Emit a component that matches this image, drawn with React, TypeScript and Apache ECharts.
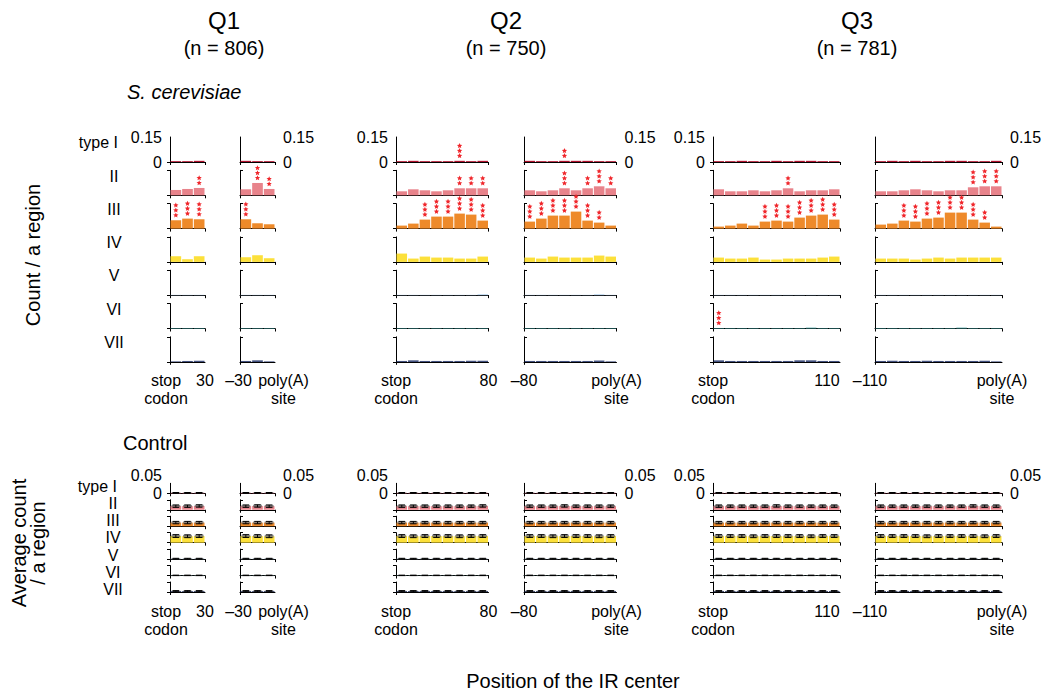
import React, { useEffect, useRef } from 'react';
import * as echarts from 'echarts';

const FONT = '"Liberation Sans", Arial, Helvetica, sans-serif';

// ---------- labels ----------
const rowNames = ['type I', 'II', 'III', 'IV', 'V', 'VI', 'VII'];
const rowColors = ['#B0102C', '#E8838B', '#EE8A2A', '#FCE03A', '#A9CBEA', '#3A9A9A', '#12245E'];
const quarterTitles = ['Q1', 'Q2', 'Q3'];
const quarterCounts = ['(n = 806)', '(n = 750)', '(n = 781)'];
const xTickLabels = [
  ['stop\ncodon', '30'],
  ['\u201330', 'poly(A)\nsite'],
  ['stop\ncodon', '80'],
  ['\u201380', 'poly(A)\nsite'],
  ['stop\ncodon', '110'],
  ['\u2013110', 'poly(A)\nsite'],
];
const yMaxCer = 0.15;
const yMaxCtrl = 0.05;

// ---------- S. cerevisiae: rows = type I..VII, values per 10-nt bin ----------
const cerQ1Stop = [
  [0.005, 0.005, 0.007],
  [0.032, 0.038, 0.044],
  [0.05, 0.06, 0.056],
  [0.034, 0.016, 0.034],
  [0.002, 0.002, 0.002],
  [0.003, 0.003, 0.003],
  [0.003, 0.005, 0.006],
];
const cerQ1PolyA = [
  [0.007, 0.005, 0.005],
  [0.036, 0.074, 0.038],
  [0.056, 0.032, 0.026],
  [0.028, 0.04, 0.022],
  [0.002, 0.002, 0.002],
  [0.003, 0.003, 0.003],
  [0.005, 0.008, 0.003],
];
const cerQ2Stop = [
  [0.005, 0.007, 0.005, 0.005, 0.005, 0.007, 0.005, 0.007],
  [0.024, 0.036, 0.03, 0.024, 0.03, 0.042, 0.042, 0.042],
  [0.018, 0.03, 0.054, 0.072, 0.072, 0.09, 0.084, 0.048],
  [0.05, 0.02, 0.032, 0.026, 0.026, 0.02, 0.02, 0.032],
  [0.002, 0.002, 0.002, 0.002, 0.002, 0.002, 0.002, 0.005],
  [0.003, 0.003, 0.003, 0.003, 0.003, 0.003, 0.003, 0.003],
  [0.005, 0.008, 0.005, 0.005, 0.005, 0.005, 0.006, 0.006],
];
const cerQ2PolyA = [
  [0.007, 0.005, 0.005, 0.007, 0.007, 0.007, 0.005, 0.005],
  [0.03, 0.024, 0.03, 0.042, 0.03, 0.042, 0.054, 0.042],
  [0.042, 0.06, 0.078, 0.078, 0.102, 0.048, 0.036, 0.018],
  [0.026, 0.02, 0.032, 0.026, 0.026, 0.026, 0.038, 0.032],
  [0.002, 0.002, 0.002, 0.002, 0.002, 0.002, 0.005, 0.002],
  [0.003, 0.003, 0.003, 0.003, 0.003, 0.003, 0.003, 0.003],
  [0.005, 0.005, 0.005, 0.005, 0.005, 0.005, 0.007, 0.003],
];
const cerQ3Stop = [
  [0.005, 0.005, 0.007, 0.005, 0.005, 0.007, 0.005, 0.007, 0.007, 0.005, 0.005],
  [0.036, 0.024, 0.024, 0.03, 0.024, 0.03, 0.042, 0.024, 0.03, 0.03, 0.036],
  [0.012, 0.018, 0.03, 0.018, 0.042, 0.048, 0.042, 0.066, 0.078, 0.084, 0.054],
  [0.026, 0.02, 0.02, 0.026, 0.014, 0.014, 0.02, 0.02, 0.02, 0.026, 0.032],
  [0.002, 0.002, 0.002, 0.002, 0.002, 0.002, 0.002, 0.002, 0.002, 0.002, 0.002],
  [0.003, 0.003, 0.003, 0.003, 0.003, 0.003, 0.003, 0.003, 0.005, 0.003, 0.003],
  [0.008, 0.005, 0.005, 0.005, 0.005, 0.005, 0.005, 0.008, 0.008, 0.005, 0.005],
];
const cerQ3PolyA = [
  [0.005, 0.007, 0.005, 0.007, 0.005, 0.005, 0.007, 0.007, 0.005, 0.005, 0.007],
  [0.024, 0.024, 0.03, 0.036, 0.03, 0.024, 0.03, 0.03, 0.048, 0.054, 0.054],
  [0.024, 0.03, 0.048, 0.042, 0.06, 0.066, 0.096, 0.096, 0.054, 0.036, 0.012],
  [0.02, 0.02, 0.02, 0.014, 0.02, 0.026, 0.02, 0.026, 0.026, 0.026, 0.026],
  [0.002, 0.002, 0.002, 0.002, 0.002, 0.002, 0.002, 0.002, 0.002, 0.002, 0.002],
  [0.003, 0.003, 0.003, 0.003, 0.003, 0.003, 0.003, 0.005, 0.003, 0.003, 0.003],
  [0.005, 0.006, 0.005, 0.005, 0.006, 0.005, 0.005, 0.005, 0.005, 0.006, 0.003],
];

// significance marks: [row, bin, number of asterisks]
const starsQ1Stop = [[1, 2, 2], [2, 0, 3], [2, 1, 3], [2, 2, 3]];
const starsQ1PolyA = [[1, 1, 3], [1, 2, 2], [2, 0, 3]];
const starsQ2Stop = [[0, 5, 3], [1, 5, 2], [1, 6, 2], [1, 7, 2], [2, 2, 3], [2, 3, 3], [2, 4, 3], [2, 5, 3], [2, 6, 3], [2, 7, 3]];
const starsQ2PolyA = [[0, 3, 2], [1, 3, 3], [1, 5, 2], [1, 6, 3], [1, 7, 2], [2, 0, 3], [2, 1, 3], [2, 2, 3], [2, 3, 3], [2, 4, 3], [2, 5, 3], [2, 6, 2]];
const starsQ3Stop = [[1, 6, 2], [2, 4, 3], [2, 5, 3], [2, 6, 3], [2, 7, 3], [2, 8, 3], [2, 9, 3], [2, 10, 3], [5, 0, 3]];
const starsQ3PolyA = [[1, 8, 3], [1, 9, 3], [1, 10, 3], [2, 2, 3], [2, 3, 3], [2, 4, 3], [2, 5, 3], [2, 6, 3], [2, 7, 3], [2, 8, 3], [2, 9, 2]];

// ---------- Control (average over shuffled sequences) ----------
const ctrlQ1Stop = [
  [0.002, 0.002, 0.002],
  [0.018, 0.018, 0.019],
  [0.018, 0.018, 0.018],
  [0.033, 0.032, 0.033],
  [0.002, 0.002, 0.002],
  [0.001, 0.001, 0.001],
  [0.004, 0.004, 0.004],
];
const ctrlQ1PolyA = [
  [0.002, 0.002, 0.002],
  [0.018, 0.019, 0.018],
  [0.018, 0.018, 0.018],
  [0.033, 0.033, 0.032],
  [0.002, 0.002, 0.002],
  [0.001, 0.001, 0.001],
  [0.004, 0.004, 0.004],
];
const ctrlQ2Stop = [
  [0.002, 0.002, 0.002, 0.002, 0.002, 0.002, 0.002, 0.002],
  [0.018, 0.018, 0.018, 0.018, 0.018, 0.018, 0.018, 0.019],
  [0.018, 0.018, 0.018, 0.018, 0.018, 0.018, 0.018, 0.018],
  [0.033, 0.032, 0.033, 0.033, 0.033, 0.032, 0.033, 0.033],
  [0.002, 0.002, 0.002, 0.002, 0.002, 0.002, 0.002, 0.002],
  [0.001, 0.001, 0.001, 0.001, 0.001, 0.001, 0.001, 0.001],
  [0.004, 0.004, 0.004, 0.004, 0.004, 0.004, 0.004, 0.004],
];
const ctrlQ2PolyA = [
  [0.002, 0.002, 0.002, 0.002, 0.002, 0.002, 0.002, 0.002],
  [0.018, 0.018, 0.018, 0.019, 0.018, 0.018, 0.018, 0.018],
  [0.018, 0.018, 0.018, 0.018, 0.018, 0.018, 0.018, 0.018],
  [0.033, 0.033, 0.032, 0.033, 0.033, 0.033, 0.032, 0.033],
  [0.002, 0.002, 0.002, 0.002, 0.002, 0.002, 0.002, 0.002],
  [0.001, 0.001, 0.001, 0.001, 0.001, 0.001, 0.001, 0.001],
  [0.004, 0.004, 0.004, 0.004, 0.004, 0.004, 0.004, 0.004],
];
const ctrlQ3Stop = [
  [0.002, 0.002, 0.002, 0.002, 0.002, 0.002, 0.002, 0.002, 0.002, 0.002, 0.002],
  [0.018, 0.018, 0.018, 0.018, 0.018, 0.019, 0.018, 0.018, 0.018, 0.018, 0.018],
  [0.018, 0.018, 0.018, 0.018, 0.018, 0.018, 0.018, 0.018, 0.018, 0.018, 0.018],
  [0.033, 0.033, 0.033, 0.032, 0.033, 0.033, 0.033, 0.033, 0.032, 0.033, 0.033],
  [0.002, 0.002, 0.002, 0.002, 0.002, 0.002, 0.002, 0.002, 0.002, 0.002, 0.002],
  [0.001, 0.001, 0.001, 0.001, 0.001, 0.001, 0.001, 0.001, 0.001, 0.001, 0.001],
  [0.004, 0.004, 0.004, 0.004, 0.004, 0.004, 0.004, 0.004, 0.004, 0.004, 0.004],
];
const ctrlQ3PolyA = [
  [0.002, 0.002, 0.002, 0.002, 0.002, 0.002, 0.002, 0.002, 0.002, 0.002, 0.002],
  [0.018, 0.018, 0.018, 0.018, 0.018, 0.018, 0.018, 0.018, 0.019, 0.018, 0.018],
  [0.018, 0.018, 0.018, 0.018, 0.018, 0.018, 0.018, 0.018, 0.018, 0.018, 0.018],
  [0.033, 0.033, 0.033, 0.033, 0.032, 0.033, 0.033, 0.033, 0.033, 0.032, 0.033],
  [0.002, 0.002, 0.002, 0.002, 0.002, 0.002, 0.002, 0.002, 0.002, 0.002, 0.002],
  [0.001, 0.001, 0.001, 0.001, 0.001, 0.001, 0.001, 0.001, 0.001, 0.001, 0.001],
  [0.004, 0.004, 0.004, 0.004, 0.004, 0.004, 0.004, 0.004, 0.004, 0.004, 0.004],
];
const ctrlErr = [0.002, 0.006, 0.006, 0.007, 0.002, 0.001, 0.003];

const cerPanels = [cerQ1Stop, cerQ1PolyA, cerQ2Stop, cerQ2PolyA, cerQ3Stop, cerQ3PolyA];
const cerStars = [starsQ1Stop, starsQ1PolyA, starsQ2Stop, starsQ2PolyA, starsQ3Stop, starsQ3PolyA];
const ctrlPanels = [ctrlQ1Stop, ctrlQ1PolyA, ctrlQ2Stop, ctrlQ2PolyA, ctrlQ3Stop, ctrlQ3PolyA];

// ---------- layout (pixels) ----------
const PANEL_X = [170, 240, 396, 524, 713, 875];
const PANEL_W = [35, 35, 92.5, 92.5, 127, 127];
const LABEL_SHIFT = [[-4, 0], [-1.5, 8.5], [0, 0], [0, 0], [0, -13], [-5, 0]];
const TITLE_X = [224, 506, 857];
const CER_TOP0 = 137, CER_STEP = 33.3, CER_H = 25;
const CTRL_BASE0 = 493.3, CTRL_STEP = 16.45, CTRL_H = 10;

function starPoints(cx: number, cy: number, R: number, r: number) {
  const pts: number[][] = [];
  for (let i = 0; i < 10; i++) {
    const a = -Math.PI / 2 + (i * Math.PI) / 5;
    const rad = i % 2 ? r : R;
    pts.push([cx + rad * Math.cos(a), cy + rad * Math.sin(a)]);
  }
  return pts;
}

function renderStars(_params: any, api: any) {
  const p = api.coord([api.value(0), api.value(1)]);
  const k = api.value(2);
  const children: any[] = [];
  for (let j = 0; j < k; j++) {
    children.push({
      type: 'polygon',
      shape: { points: starPoints(p[0], p[1] - 5 - 5 * j, 2.8, 1.3) },
      style: { fill: '#F0262B' },
    });
  }
  return { type: 'group', children };
}

function renderErr(_params: any, api: any) {
  const x = api.value(0), v = api.value(1), e = api.value(2);
  const c = api.coord([x, v]);
  const hi = api.coord([x, v + e]);
  const lo = api.coord([x, Math.max(0, v - e)]);
  const bw = api.size([1, 0])[0];
  return {
    type: 'group',
    children: [
      { type: 'rect', shape: { x: c[0] - bw * 0.38, y: hi[1], width: bw * 0.76, height: Math.max(1, lo[1] - hi[1]) }, style: { fill: 'rgba(95,95,95,0.7)' } },
      { type: 'line', shape: { x1: c[0], y1: hi[1], x2: c[0], y2: lo[1] }, style: { stroke: '#000', lineWidth: 1 } },
      { type: 'line', shape: { x1: c[0] - bw * 0.28, y1: hi[1], x2: c[0] + bw * 0.28, y2: hi[1] }, style: { stroke: '#000', lineWidth: 1 } },
      { type: 'line', shape: { x1: c[0] - bw * 0.28, y1: lo[1], x2: c[0] + bw * 0.28, y2: lo[1] }, style: { stroke: '#000', lineWidth: 1 } },
    ],
  };
}

function buildOption() {
  const grid: any[] = [];
  const xAxis: any[] = [];
  const yAxis: any[] = [];
  const series: any[] = [];
  const rich: any = {
    up: { fontSize: 16, lineHeight: 16, fontFamily: FONT, color: '#000', padding: [0, 0, 16, 0] },
  };
  for (let p = 0; p < 6; p++) {
    for (let k = 0; k < 2; k++) {
      const s = LABEL_SHIFT[p][k];
      rich[`s${p}_${k}`] = {
        fontSize: 16, lineHeight: 18, fontFamily: FONT, color: '#000',
        padding: s < 0 ? [0, -2 * s, 0, 0] : [0, 0, 0, 2 * s],
      };
    }
  }
  const axisLineStyle = { show: true, onZero: true, lineStyle: { color: '#000', width: 1 } };
  const tickStyle = { show: true, length: 3, lineStyle: { color: '#000', width: 1 } };
  for (let sec = 0; sec < 2; sec++) {
    const panels = sec === 0 ? cerPanels : ctrlPanels;
    const ymax = sec === 0 ? yMaxCer : yMaxCtrl;
    for (let p = 0; p < 6; p++) {
      for (let r = 0; r < 7; r++) {
        const gi = grid.length;
        const vals = panels[p][r];
        const n = vals.length;
        const h = sec === 0 ? CER_H : CTRL_H;
        const top = sec === 0 ? CER_TOP0 + r * CER_STEP : CTRL_BASE0 + r * CTRL_STEP - CTRL_H;
        grid.push({ left: PANEL_X[p], top, width: PANEL_W[p], height: h, containLabel: false });
        const pp = p;
        const xfmt = (v: number) => {
          const k = v === 0 ? 0 : 1;
          const key = `s${pp}_${k}`;
          return xTickLabels[pp][k].split('\n').map((l) => `{${key}|${l}}`).join('\n');
        };
        const xLab = { margin: 10, fontSize: 16, lineHeight: 18, fontFamily: FONT, color: '#000', rich, formatter: xfmt };
        const xi = xAxis.length;
        xAxis.push({
          type: 'value', gridIndex: gi, position: 'bottom', min: 0, max: n, interval: n,
          axisLine: axisLineStyle, axisTick: tickStyle, splitLine: { show: false },
          axisLabel: r === 6 ? { show: true, showMinLabel: true, showMaxLabel: false, ...xLab } : { show: false },
        });
        if (r === 6) {
          // second bottom axis on the same grid carries the right-end label
          xAxis.push({
            type: 'value', gridIndex: gi, position: 'bottom', min: 0, max: n, interval: n,
            axisLine: { show: false }, axisTick: { show: false }, splitLine: { show: false },
            axisLabel: { show: true, showMinLabel: false, showMaxLabel: true, ...xLab },
          });
        }
        const yPos = p % 2 === 0 ? 'left' : 'right';
        const yLab = { margin: 8, fontSize: 16, fontFamily: FONT, color: '#000' };
        const yi = yAxis.length;
        yAxis.push({
          type: 'value', gridIndex: gi, position: yPos, min: 0, max: ymax, interval: ymax,
          axisLine: { show: true, lineStyle: { color: '#000', width: 1 } }, axisTick: tickStyle, splitLine: { show: false },
          axisLabel: r === 0 ? { show: true, showMinLabel: true, showMaxLabel: false, ...yLab } : { show: false },
        });
        if (r === 0) {
          yAxis.push({
            type: 'value', gridIndex: gi, position: yPos, min: 0, max: ymax, interval: ymax,
            axisLine: { show: false }, axisTick: { show: false }, splitLine: { show: false },
            axisLabel: {
              show: true, showMinLabel: false, showMaxLabel: true, ...yLab,
              formatter: sec === 0 ? undefined : (v: number) => `{up|${v}}`,
              rich,
            },
          });
        }
        series.push({
          type: 'bar', xAxisIndex: xi, yAxisIndex: yi, silent: true,
          data: vals.map((v, i) => [i + 0.5, v]),
          barWidth: PANEL_W[p] / n - 1,
          itemStyle: { color: rowColors[r] },
          z: 2,
        });
        if (sec === 0) {
          const st = cerStars[p].filter((s) => s[0] === r);
          if (st.length) {
            series.push({
              type: 'custom', xAxisIndex: xi, yAxisIndex: yi, silent: true, clip: false, z: 4,
              encode: { x: 0, y: 1 },
              data: st.map((s) => [s[1] + 0.5, vals[s[1]], s[2]]),
              renderItem: renderStars,
            });
          }
        } else {
          series.push({
            type: 'custom', xAxisIndex: xi, yAxisIndex: yi, silent: true, clip: false, z: 3,
            encode: { x: 0, y: 1 },
            data: vals.map((v, i) => [i + 0.5, v, ctrlErr[r]]),
            renderItem: renderErr,
          });
        }
      }
    }
  }

  const graphic: any[] = [];
  const txt = (text: string, x: number, y: number, fontSize: number, extra: any = {}, el: any = {}) => ({
    type: 'text', x, y, silent: true, ...el,
    style: { text, fill: '#000', fontSize, fontFamily: FONT, align: 'center', verticalAlign: 'middle', ...extra },
  });
  for (let q = 0; q < 3; q++) {
    graphic.push(txt(quarterTitles[q], TITLE_X[q], 20, 24));
    graphic.push(txt(quarterCounts[q], TITLE_X[q], 48, 20));
  }
  graphic.push(txt('S. cerevisiae', 127, 92, 20, { align: 'left', fontStyle: 'italic' }));
  graphic.push(txt('Control', 123, 443, 20, { align: 'left' }));
  for (let r = 0; r < 7; r++) {
    const yc = 142.7 + r * 33.3;
    const yk = 486 + r * 17.3;
    if (r === 0) {
      graphic.push(txt(rowNames[r], 118, yc, 16, { align: 'right' }));
      graphic.push(txt(rowNames[r], 117, yk, 16, { align: 'right' }));
    } else {
      graphic.push(txt(rowNames[r], 114, yc, 16));
      graphic.push(txt(rowNames[r], 113, yk, 16));
    }
  }
  graphic.push(txt('Count / a region', 33, 255, 20, {}, { rotation: Math.PI / 2 }));
  graphic.push(txt('Average count\n/ a region', 28, 543, 20, { lineHeight: 19 }, { rotation: Math.PI / 2 }));
  graphic.push(txt('Position of the IR center', 573, 681, 20));

  return { animation: false, backgroundColor: '#fff', grid, xAxis, yAxis, series, graphic };
}

export default function App() {
  const ref = useRef<HTMLDivElement>(null);
  useEffect(() => {
    if (!ref.current) return;
    const chart = echarts.init(ref.current, undefined, { renderer: 'svg' });
    chart.setOption(buildOption() as any);
    return () => chart.dispose();
  }, []);
  return <div ref={ref} style={{ position: 'absolute', left: 0, top: 0, width: 1051, height: 693 }} />;
}
